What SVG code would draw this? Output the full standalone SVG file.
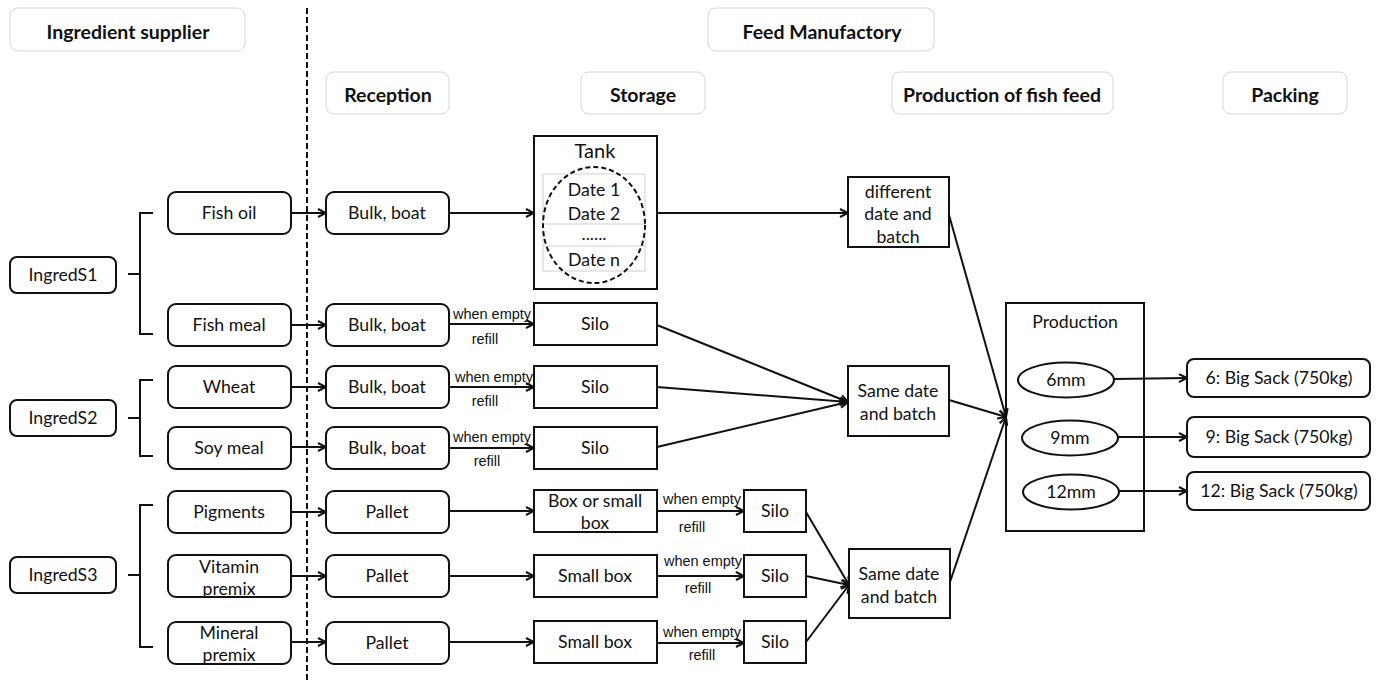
<svg xmlns="http://www.w3.org/2000/svg" width="1376" height="682" viewBox="0 0 1376 682">
  <style>
    .hdr rect { fill: #fff; stroke: #d6d6d6; stroke-width: 1; }
    .hdr text { font-family: Lato, "Liberation Sans", sans-serif; font-weight: bold; font-size: 19.5px; fill: #111; text-anchor: middle; }
    .rnd { fill: #fff; stroke: #111; stroke-width: 2; }
    .sq { fill: #fff; stroke: #111; stroke-width: 2; }
    .lbl { font-family: Lato, "Liberation Sans", sans-serif; font-size: 17.7px; fill: #111; text-anchor: middle; }
    .note { font-family: "Liberation Sans", Arial, sans-serif; font-size: 14.5px; fill: #111; text-anchor: middle; }
    .conn line, .conn path { stroke: #111; stroke-width: 2; fill: none; }
    .brace { stroke: #111; stroke-width: 2; fill: none; }
  </style>
  <defs>
    <marker id="arr" viewBox="0 0 10 10" refX="9" refY="5" markerWidth="10" markerHeight="10" markerUnits="userSpaceOnUse" orient="auto">
      <path d="M1,1 L9,5 L1,9" fill="none" stroke="#111" stroke-width="2"/>
    </marker>
  </defs>

  <rect width="1376" height="682" fill="#fff"/>

  <!-- column headers -->
  <g id="hdr-supplier" class="hdr"><rect x="10" y="8" width="235" height="43" rx="8"/><text x="128" y="39">Ingredient supplier</text></g>
  <g id="hdr-manufactory" class="hdr"><rect x="708" y="8" width="226" height="43" rx="8"/><text x="822" y="39">Feed Manufactory</text></g>
  <g id="hdr-reception" class="hdr"><rect x="326" y="72" width="123" height="42" rx="8"/><text x="388" y="102">Reception</text></g>
  <g id="hdr-storage" class="hdr"><rect x="581" y="72" width="124" height="42" rx="8"/><text x="643" y="102">Storage</text></g>
  <g id="hdr-production" class="hdr"><rect x="892" y="72" width="221" height="42" rx="8"/><text x="1002" y="102">Production of fish feed</text></g>
  <g id="hdr-packing" class="hdr"><rect x="1223" y="72" width="124" height="42" rx="8"/><text x="1285" y="102">Packing</text></g>

  <!-- boundary between supplier and manufactory -->
  <line x1="307" y1="8" x2="307" y2="682" stroke="#111" stroke-width="2" stroke-dasharray="6,3"/>

  <!-- suppliers -->
  <g id="ingreds1"><rect class="rnd" x="10" y="257" width="106" height="36" rx="7"/><text class="lbl" x="63" y="281">IngredS1</text></g>
  <g id="ingreds2"><rect class="rnd" x="10" y="400" width="106" height="36" rx="7"/><text class="lbl" x="63" y="424">IngredS2</text></g>
  <g id="ingreds3"><rect class="rnd" x="10" y="557" width="106" height="36" rx="7"/><text class="lbl" x="63" y="581">IngredS3</text></g>

  <!-- ingredients -->
  <g id="fish-oil"><rect class="rnd" x="168" y="192" width="123" height="42" rx="8"/><text class="lbl" x="229" y="219">Fish oil</text></g>
  <g id="fish-meal"><rect class="rnd" x="168" y="304" width="123" height="42" rx="8"/><text class="lbl" x="229" y="331">Fish meal</text></g>
  <g id="wheat"><rect class="rnd" x="168" y="366" width="123" height="42" rx="8"/><text class="lbl" x="229" y="393">Wheat</text></g>
  <g id="soy-meal"><rect class="rnd" x="168" y="427" width="123" height="42" rx="8"/><text class="lbl" x="229" y="454">Soy meal</text></g>
  <g id="pigments"><rect class="rnd" x="168" y="491" width="123" height="42" rx="8"/><text class="lbl" x="229" y="518">Pigments</text></g>
  <g id="vitamin"><rect class="rnd" x="168" y="555" width="123" height="42" rx="8"/><text class="lbl" x="229" y="573">Vitamin</text><text class="lbl" x="229" y="595">premix</text></g>
  <g id="mineral"><rect class="rnd" x="168" y="622" width="123" height="42" rx="8"/><text class="lbl" x="229" y="639">Mineral</text><text class="lbl" x="229" y="661">premix</text></g>

  <!-- reception -->
  <g id="rec-1"><rect class="rnd" x="326" y="192" width="123" height="42" rx="8"/><text class="lbl" x="387" y="219">Bulk, boat</text></g>
  <g id="rec-2"><rect class="rnd" x="326" y="304" width="123" height="42" rx="8"/><text class="lbl" x="387" y="331">Bulk, boat</text></g>
  <g id="rec-3"><rect class="rnd" x="326" y="366" width="123" height="42" rx="8"/><text class="lbl" x="387" y="393">Bulk, boat</text></g>
  <g id="rec-4"><rect class="rnd" x="326" y="427" width="123" height="42" rx="8"/><text class="lbl" x="387" y="454">Bulk, boat</text></g>
  <g id="rec-5"><rect class="rnd" x="326" y="491" width="123" height="42" rx="8"/><text class="lbl" x="387" y="518">Pallet</text></g>
  <g id="rec-6"><rect class="rnd" x="326" y="555" width="123" height="42" rx="8"/><text class="lbl" x="387" y="582">Pallet</text></g>
  <g id="rec-7"><rect class="rnd" x="326" y="622" width="123" height="42" rx="8"/><text class="lbl" x="387" y="649">Pallet</text></g>

  <!-- storage -->
  <g id="tank">
    <rect class="sq" x="534" y="136" width="123" height="153"/>
    <text class="lbl" x="595" y="158" style="font-size:20px">Tank</text>
    <rect x="543" y="174" width="102" height="97" fill="none" stroke="#cfcfcf" stroke-width="1"/>
    <line x1="543" y1="224" x2="645" y2="224" stroke="#cfcfcf" stroke-width="1"/>
    <line x1="543" y1="246" x2="645" y2="246" stroke="#cfcfcf" stroke-width="1"/>
    <ellipse cx="594" cy="225" rx="51" ry="58" fill="none" stroke="#111" stroke-width="2" stroke-dasharray="5,3"/>
    <text class="lbl" x="594" y="196">Date 1</text>
    <text class="lbl" x="594" y="220">Date 2</text>
    <text class="lbl" x="594" y="240">......</text>
    <text class="lbl" x="594" y="266">Date n</text>
  </g>
  <g id="silo-1"><rect class="sq" x="534" y="303" width="123" height="42"/><text class="lbl" x="595" y="330">Silo</text></g>
  <g id="silo-2"><rect class="sq" x="534" y="366" width="123" height="42"/><text class="lbl" x="595" y="393">Silo</text></g>
  <g id="silo-3"><rect class="sq" x="534" y="427" width="123" height="42"/><text class="lbl" x="595" y="454">Silo</text></g>
  <g id="box-1"><rect class="sq" x="534" y="490" width="123" height="42"/><text class="lbl" x="595" y="507">Box or small</text><text class="lbl" x="595" y="529">box</text></g>
  <g id="box-2"><rect class="sq" x="534" y="555" width="123" height="42"/><text class="lbl" x="595" y="582">Small box</text></g>
  <g id="box-3"><rect class="sq" x="534" y="621" width="123" height="42"/><text class="lbl" x="595" y="648">Small box</text></g>
  <g id="silo-s1"><rect class="sq" x="744" y="490" width="62" height="42"/><text class="lbl" x="775" y="517">Silo</text></g>
  <g id="silo-s2"><rect class="sq" x="744" y="555" width="62" height="42"/><text class="lbl" x="775" y="582">Silo</text></g>
  <g id="silo-s3"><rect class="sq" x="744" y="621" width="62" height="42"/><text class="lbl" x="775" y="648">Silo</text></g>

  <!-- batching -->
  <g id="batch-diff"><rect class="sq" x="848" y="177" width="101" height="70"/><text class="lbl" x="898" y="198">different</text><text class="lbl" x="898" y="220">date and</text><text class="lbl" x="898" y="243">batch</text></g>
  <g id="batch-same-1"><rect class="sq" x="848" y="366" width="101" height="70"/><text class="lbl" x="898" y="397">Same date</text><text class="lbl" x="898" y="420">and batch</text></g>
  <g id="batch-same-2"><rect class="sq" x="849" y="549" width="101" height="69"/><text class="lbl" x="899" y="580">Same date</text><text class="lbl" x="899" y="603">and batch</text></g>

  <!-- production -->
  <g id="production">
    <rect class="sq" x="1006" y="303" width="138" height="228"/>
    <text class="lbl" x="1075" y="328">Production</text>
  </g>
  <g id="p6mm"><ellipse cx="1066" cy="380" rx="48" ry="17.5" fill="#fff" stroke="#111" stroke-width="2"/><text class="lbl" x="1066" y="386">6mm</text></g>
  <g id="p9mm"><ellipse cx="1070" cy="438" rx="48" ry="17.5" fill="#fff" stroke="#111" stroke-width="2"/><text class="lbl" x="1070" y="444">9mm</text></g>
  <g id="p12mm"><ellipse cx="1071" cy="492" rx="48" ry="17.5" fill="#fff" stroke="#111" stroke-width="2"/><text class="lbl" x="1071" y="498">12mm</text></g>

  <!-- packing -->
  <g id="sack-6"><rect class="rnd" x="1187" y="359" width="183" height="38" rx="7"/><text class="lbl" x="1279" y="384">6: Big Sack (750kg)</text></g>
  <g id="sack-9"><rect class="rnd" x="1187" y="417" width="183" height="40" rx="7"/><text class="lbl" x="1279" y="443">9: Big Sack (750kg)</text></g>
  <g id="sack-12"><rect class="rnd" x="1187" y="472" width="183" height="38" rx="7"/><text class="lbl" x="1279" y="497">12: Big Sack (750kg)</text></g>

  <!-- supplier braces -->
  <g id="braces" class="brace">
    <path d="M153,213 H140 V334 H153 M128,274 H140"/>
    <path d="M153,380 H140 V456 H153 M128,418 H140"/>
    <path d="M153,505 H140 V647 H153 M128,575 H140"/>
  </g>

  <!-- connectors -->
  <g id="connectors" class="conn">
    <line x1="291" y1="213" x2="326" y2="213" marker-end="url(#arr)"/>
    <line x1="291" y1="325" x2="326" y2="325" marker-end="url(#arr)"/>
    <line x1="291" y1="387" x2="326" y2="387" marker-end="url(#arr)"/>
    <line x1="291" y1="447" x2="326" y2="447" marker-end="url(#arr)"/>
    <line x1="291" y1="512" x2="326" y2="512" marker-end="url(#arr)"/>
    <line x1="291" y1="576" x2="326" y2="576" marker-end="url(#arr)"/>
    <line x1="291" y1="642" x2="326" y2="642" marker-end="url(#arr)"/>

    <line x1="449" y1="213" x2="534" y2="213" marker-end="url(#arr)"/>
    <line x1="449" y1="324" x2="534" y2="324" marker-end="url(#arr)"/>
    <line x1="449" y1="387" x2="534" y2="387" marker-end="url(#arr)"/>
    <line x1="449" y1="448" x2="534" y2="448" marker-end="url(#arr)"/>
    <line x1="449" y1="511" x2="534" y2="511" marker-end="url(#arr)"/>
    <line x1="449" y1="576" x2="534" y2="576" marker-end="url(#arr)"/>
    <line x1="449" y1="642" x2="534" y2="642" marker-end="url(#arr)"/>

    <line x1="657" y1="511" x2="744" y2="511" marker-end="url(#arr)"/>
    <line x1="657" y1="576" x2="744" y2="576" marker-end="url(#arr)"/>
    <line x1="657" y1="643" x2="744" y2="643" marker-end="url(#arr)"/>

    <line x1="657" y1="213" x2="848" y2="213" marker-end="url(#arr)"/>
    <line x1="657" y1="325" x2="848" y2="402" marker-end="url(#arr)"/>
    <line x1="657" y1="387" x2="848" y2="402" marker-end="url(#arr)"/>
    <line x1="657" y1="447" x2="848" y2="402" marker-end="url(#arr)"/>

    <line x1="806" y1="512" x2="849" y2="585" marker-end="url(#arr)"/>
    <line x1="806" y1="576" x2="849" y2="585" marker-end="url(#arr)"/>
    <line x1="806" y1="642" x2="849" y2="585" marker-end="url(#arr)"/>

    <line x1="949" y1="215" x2="1006" y2="417" marker-end="url(#arr)"/>
    <line x1="949" y1="400" x2="1006" y2="417" marker-end="url(#arr)"/>
    <line x1="950" y1="582" x2="1006" y2="417" marker-end="url(#arr)"/>

    <line x1="1114" y1="379" x2="1187" y2="378" marker-end="url(#arr)"/>
    <line x1="1118" y1="437" x2="1187" y2="437" marker-end="url(#arr)"/>
    <line x1="1119" y1="491" x2="1187" y2="491" marker-end="url(#arr)"/>
  </g>

  <!-- refill notes -->
  <g id="notes">
    <text class="note" x="492" y="319">when empty</text><text class="note" x="485" y="344">refill</text>
    <text class="note" x="494" y="382">when empty</text><text class="note" x="485" y="406">refill</text>
    <text class="note" x="492" y="442">when empty</text><text class="note" x="487" y="466">refill</text>
    <text class="note" x="702" y="504">when empty</text><text class="note" x="692" y="532">refill</text>
    <text class="note" x="703" y="566">when empty</text><text class="note" x="698" y="593">refill</text>
    <text class="note" x="702" y="637">when empty</text><text class="note" x="702" y="660">refill</text>
  </g>
</svg>
